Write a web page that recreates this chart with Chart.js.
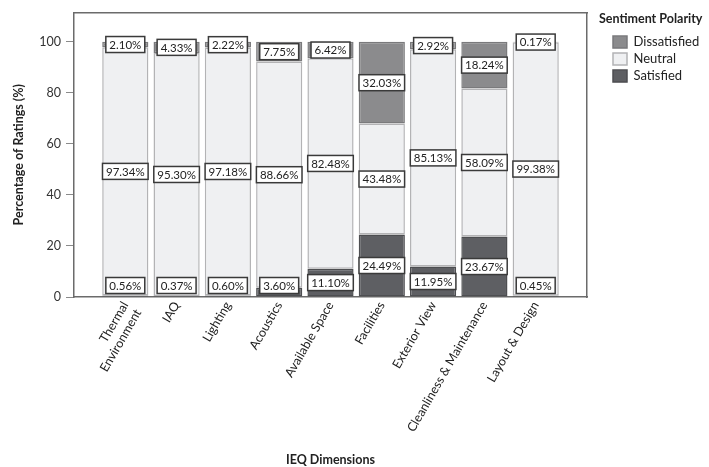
<!DOCTYPE html>
<html>
<head>
<meta charset="utf-8">
<script src="https://cdn.jsdelivr.net/npm/chart.js@4.4.1/dist/chart.umd.min.js"></script>
<style>
  html, body { margin: 0; padding: 0; background: #fff; }
</style>
</head>
<body>
<canvas id="chart" width="709" height="467"></canvas>
<script>
const categories = [
    ['Thermal', 'Environment'], 'IAQ', 'Lighting', 'Acoustics', 'Available Space',
    'Facilities', 'Exterior View', 'Cleanliness & Maintenance', 'Layout & Design'
];
const satisfied    = [0.56, 0.37, 0.60, 3.60, 11.10, 24.49, 11.95, 23.67, 0.45];
const neutral      = [97.34, 95.30, 97.18, 88.66, 82.48, 43.48, 85.13, 58.09, 99.38];
const dissatisfied = [2.10, 4.33, 2.22, 7.75, 6.42, 32.03, 2.92, 18.24, 0.17];
const yTicks = [0, 20, 40, 60, 80, 100];
const legendTitle = 'Sentiment Polarity';

const FONT = 'Lato, "Open Sans", sans-serif';
const toPoints = (arr) => arr.map((v, i) => ({ x: i, y: v }));

// white boxed value label in the middle of each segment
const boxLabels = {
    id: 'boxLabels',
    afterDatasetsDraw(chart) {
        const { ctx, chartArea } = chart;
        ctx.save();
        ctx.font = '11.5px ' + FONT;
        ctx.textAlign = 'center';
        ctx.textBaseline = 'middle';
        chart.data.datasets.forEach((ds, di) => {
            chart.getDatasetMeta(di).data.forEach((bar, i) => {
                const txt = ds.data[i].y.toFixed(2) + '%';
                const w = ctx.measureText(txt).width + 7;
                const h = 16;
                let y = (bar.y + bar.base) / 2;
                y = Math.min(y, chartArea.bottom - 11.5);
                ctx.fillStyle = '#fff';
                ctx.fillRect(bar.x - w / 2, y - h / 2, w, h);
                ctx.strokeStyle = '#3a3a3a';
                ctx.lineWidth = 1.5;
                ctx.strokeRect(bar.x - w / 2, y - h / 2, w, h);
                ctx.fillStyle = '#222';
                ctx.fillText(txt, bar.x, y + 0.5);
            });
        });
        ctx.restore();
    }
};

// legend heading sits a bit left of the legend boxes
const legendHeading = {
    id: 'legendHeading',
    afterDraw(chart) {
        const { ctx, legend } = chart;
        ctx.save();
        ctx.font = 'bold 12.5px ' + FONT;
        ctx.fillStyle = '#222';
        ctx.textAlign = 'left';
        ctx.textBaseline = 'middle';
        ctx.fillText(legendTitle, legend.left - 10, 19);
        ctx.restore();
    }
};

new Chart(document.getElementById('chart'), {
    type: 'bar',
    data: {
        datasets: [
            { label: 'Satisfied', data: toPoints(satisfied), backgroundColor: '#5e5f63', borderColor: '#4d4e51' },
            { label: 'Neutral', data: toPoints(neutral), backgroundColor: '#eff0f2', borderColor: '#b3b3b5' },
            { label: 'Dissatisfied', data: toPoints(dissatisfied), backgroundColor: '#8b8b8d', borderColor: '#7a7a7c' },
        ]
    },
    options: {
        responsive: false,
        animation: false,
        layout: { padding: 0 },
        datasets: {
            bar: {
                borderWidth: 1.5,
                borderSkipped: false,
                barPercentage: 0.9,
                categoryPercentage: 1,
            }
        },
        plugins: {
            tooltip: { enabled: false },
            legend: {
                position: 'right',
                align: 'start',
                reverse: true,
                maxWidth: 100,
                title: {
                    display: true,
                    text: '',
                    font: { family: FONT, size: 13, weight: 'bold' },
                    padding: { top: 12.5, bottom: 3.5 },
                },
                labels: {
                    color: '#222',
                    font: { family: FONT, size: 13 },
                    boxWidth: 14,
                    boxHeight: 12,
                    padding: 4,
                }
            }
        },
        scales: {
            x: {
                type: 'linear',
                stacked: true,
                offset: false,
                min: -1,
                max: 9,
                afterBuildTicks: (s) => { s.ticks = s.ticks.filter(t => t.value >= 0 && t.value < categories.length); },
                afterFit: (s) => { s.height = 170; },
                ticks: {
                    stepSize: 1,
                    autoSkip: false,
                    minRotation: 60,
                    maxRotation: 60,
                    padding: 2,
                    color: '#222',
                    font: { family: FONT, size: 12.5 },
                    callback: (v) => categories[v] ?? '',
                },
                grid: { display: false, drawTicks: false, offset: false },
                border: { display: true, color: '#6b6b6b', width: 1.5 },
                title: {
                    display: true,
                    text: 'IEQ Dimensions',
                    color: '#222',
                    font: { family: FONT, size: 12.5, weight: 'bold' },
                    padding: { top: 0, bottom: 0 },
                }
            },
            xTop: {
                type: 'linear',
                position: 'top',
                afterFit: (s) => { s.height = 7; },
                ticks: { display: false },
                grid: { display: false, drawTicks: false },
                border: { display: true, color: '#6b6b6b', width: 1.5 },
            },
            y: {
                stacked: true,
                min: 0,
                max: 111.5,
                afterBuildTicks: (s) => { s.ticks = yTicks.map(v => ({ value: v })); },
                afterFit: (s) => { s.width = 74; },
                ticks: {
                    padding: 5,
                    color: '#333',
                    font: { family: FONT, size: 12.5 },
                },
                grid: { drawOnChartArea: false, drawTicks: true, tickLength: 8, color: '#8a8a8a' },
                border: { display: true, color: '#6b6b6b', width: 1.5 },
                title: {
                    display: true,
                    text: 'Percentage of Ratings (%)',
                    color: '#222',
                    font: { family: FONT, size: 12.5, weight: 'bold' },
                    padding: { top: 11, bottom: 0 },
                }
            },
            yRight: {
                type: 'linear',
                position: 'right',
                afterFit: (s) => { s.width = 22; },
                ticks: { display: false },
                grid: { display: false, drawTicks: false },
                border: { display: true, color: '#6b6b6b', width: 1.5 },
            }
        }
    },
    plugins: [boxLabels, legendHeading]
});
</script>
</body>
</html>
